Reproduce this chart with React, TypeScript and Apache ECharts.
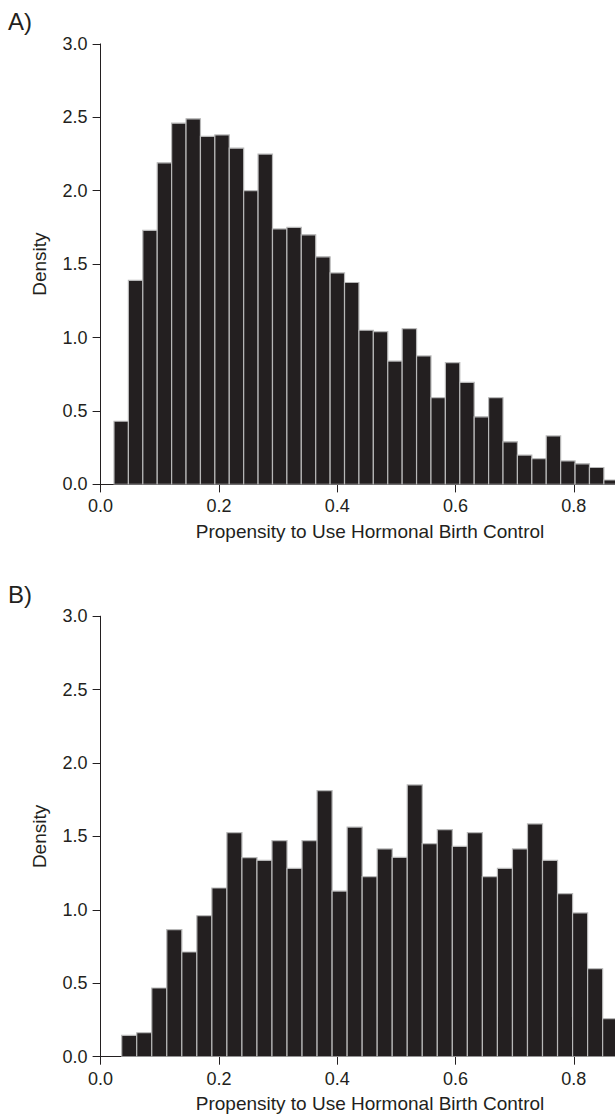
import React, { useEffect, useRef } from "react";
import * as echarts from "echarts";

// Panel A: histogram densities (35 bins)
const TOP_HEIGHTS = [
  0.43, 1.39, 1.73, 2.19, 2.46, 2.49, 2.37, 2.38, 2.29, 2.0, 2.25, 1.74, 1.75,
  1.7, 1.55, 1.44, 1.375, 1.05, 1.04, 0.84, 1.06, 0.875, 0.59, 0.83, 0.695,
  0.46, 0.59, 0.29, 0.2, 0.175, 0.33, 0.16, 0.14, 0.115, 0.03,
];
const TOP_BIN_START = 0.02265;
const TOP_BIN_WIDTH = 0.02436;

// Panel B: histogram densities (33 bins visible)
const BOTTOM_HEIGHTS = [
  0.145, 0.163, 0.468, 0.865, 0.713, 0.96, 1.149, 1.526, 1.356, 1.337, 1.471,
  1.283, 1.471, 1.812, 1.128, 1.564, 1.226, 1.415, 1.358, 1.851, 1.451, 1.546,
  1.433, 1.526, 1.226, 1.283, 1.415, 1.585, 1.337, 1.11, 0.979, 0.599, 0.259,
];
const BOTTOM_BIN_START = 0.03567;
const BOTTOM_BIN_WIDTH = 0.02541;

const PANEL_LABELS = ["A)", "B)"];
const X_TITLE = "Propensity to Use Hormonal Birth Control";
const Y_TITLE = "Density";
const X_MIN = 0;
const X_MAX = 0.8697;
const X_INTERVAL = 0.2;
const Y_MIN = 0;
const Y_MAX = 3;
const Y_INTERVAL = 0.5;

const INK = "#231f20";
const FONT = "'Liberation Sans', Arial, Helvetica, sans-serif";

function makeBars(heights: number[], start: number, width: number) {
  return heights.map((h, i) => [start + i * width, h, start + (i + 1) * width]);
}

const renderBar = (params: any, api: any) => {
  const x0 = api.value(0);
  const h = api.value(1);
  const x1 = api.value(2);
  const p0 = api.coord([x0, h]);
  const p1 = api.coord([x1, 0]);
  return {
    type: "rect",
    shape: { x: p0[0], y: p0[1], width: p1[0] - p0[0], height: p1[1] - p0[1] },
    style: { fill: INK, stroke: "#b8b8b8", lineWidth: 1.2 },
  };
};

export default function App() {
  const ref = useRef<HTMLDivElement>(null);

  useEffect(() => {
    if (!ref.current) return;
    const chart = echarts.init(ref.current, undefined, { renderer: "svg" });

    const GRID_LEFT = 100.6;
    const GRID_H = 440.5;
    const TOPS = [43.9, 616.2];

    const xAxisBase = (gridIndex: number) => ({
      type: "value",
      gridIndex,
      min: X_MIN,
      max: X_MAX,
      interval: X_INTERVAL,
      splitLine: { show: false },
      axisLine: { show: true, lineStyle: { color: INK, width: 1 } },
      axisTick: { show: true, length: 8, lineStyle: { color: INK, width: 1 } },
      axisLabel: {
        color: INK,
        fontSize: 18,
        fontFamily: FONT,
        margin: 13,
        showMaxLabel: false,
        formatter: (v: number) => {
          const k = v / X_INTERVAL;
          return Math.abs(k - Math.round(k)) < 1e-6 ? v.toFixed(1) : "";
        },
      },
    });

    const yAxisBase = (gridIndex: number) => ({
      type: "value",
      gridIndex,
      min: Y_MIN,
      max: Y_MAX,
      interval: Y_INTERVAL,
      name: Y_TITLE,
      nameLocation: "middle",
      nameGap: 52,
      nameTextStyle: { color: INK, fontSize: 19, fontFamily: FONT },
      splitLine: { show: false },
      axisLine: { show: true, lineStyle: { color: INK, width: 1 } },
      axisTick: { show: true, length: 8, lineStyle: { color: INK, width: 1 } },
      axisLabel: {
        color: INK,
        fontSize: 18,
        fontFamily: FONT,
        margin: 13,
        formatter: (v: number) => v.toFixed(1),
      },
    });

    const titleText = (y: number) => ({
      type: "text",
      x: 370,
      y,
      style: {
        text: X_TITLE,
        fill: INK,
        fontSize: 19,
        fontFamily: FONT,
        align: "center",
        verticalAlign: "middle",
      },
    });

    chart.setOption({
      animation: false,
      backgroundColor: "#ffffff",
      grid: TOPS.map((t) => ({
        left: GRID_LEFT,
        top: t,
        height: GRID_H,
        width: 615 - GRID_LEFT,
      })),
      xAxis: [xAxisBase(0), xAxisBase(1)],
      yAxis: [yAxisBase(0), yAxisBase(1)],
      series: [
        {
          type: "custom",
          xAxisIndex: 0,
          yAxisIndex: 0,
          clip: true,
          renderItem: renderBar,
          encode: { x: [0, 2], y: 1 },
          data: makeBars(TOP_HEIGHTS, TOP_BIN_START, TOP_BIN_WIDTH),
        },
        {
          type: "custom",
          xAxisIndex: 1,
          yAxisIndex: 1,
          clip: true,
          renderItem: renderBar,
          encode: { x: [0, 2], y: 1 },
          data: makeBars(BOTTOM_HEIGHTS, BOTTOM_BIN_START, BOTTOM_BIN_WIDTH),
        },
      ],
      graphic: [
        {
          type: "text",
          left: 8,
          top: 9,
          style: { text: PANEL_LABELS[0], fill: INK, fontSize: 24, fontFamily: FONT },
        },
        {
          type: "text",
          left: 8,
          top: 582,
          style: { text: PANEL_LABELS[1], fill: INK, fontSize: 24, fontFamily: FONT },
        },
        titleText(531),
        titleText(1103),
      ],
    });

    return () => chart.dispose();
  }, []);

  return (
    <div
      ref={ref}
      style={{ position: "absolute", left: 0, top: 0, width: 615, height: 1116 }}
    />
  );
}
